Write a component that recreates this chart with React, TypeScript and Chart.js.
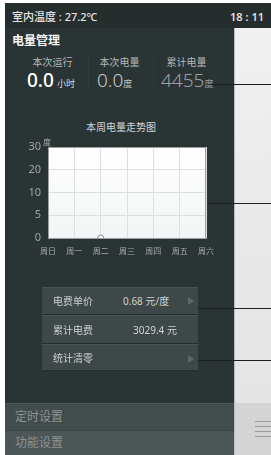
import React, { useEffect, useRef } from "react";
import { Chart, registerables } from "chart.js";

Chart.register(...registerables);

const days = ["周日", "周一", "周二", "周三", "周四", "周五", "周六"];
const yTickLabels = ["30", "20", "10", "5", "0"];
const weekUsage: (string | null)[] = [null, null, "0", null, null, null, null];

const FONT = '"Noto Sans", "Noto Sans CJK SC", sans-serif';

const plotBg = {
  id: "plotBg",
  beforeDraw(chart: any) {
    const { ctx, chartArea: a } = chart;
    ctx.save();
    const g = ctx.createLinearGradient(0, a.top, 0, a.bottom);
    g.addColorStop(0, "#ffffff");
    g.addColorStop(1, "#f2f4f5");
    ctx.fillStyle = g;
    ctx.fillRect(a.left, a.top, a.right - a.left, a.bottom - a.top);
    ctx.restore();
  },
  afterDraw(chart: any) {
    const { ctx, chartArea: a } = chart;
    ctx.save();
    ctx.strokeStyle = "#9a9e9e";
    ctx.lineWidth = 1;
    ctx.strokeRect(a.left + 0.5, a.top + 0.5, a.right - a.left - 1, a.bottom - a.top);
    ctx.restore();
  },
};

function WeekChart() {
  const ref = useRef<HTMLCanvasElement>(null);
  useEffect(() => {
    if (!ref.current) return;
    const chart = new Chart(ref.current, {
      type: "line",
      data: {
        labels: days,
        datasets: [
          {
            data: weekUsage as any,
            borderColor: "#999",
            backgroundColor: "#fff",
            borderWidth: 1,
            pointRadius: 3,
            pointBorderColor: "#8a8a8a",
            pointBackgroundColor: "#ffffff",
            spanGaps: false,
            clip: 0,
          } as any,
        ],
      },
      plugins: [plotBg],
      options: {
        animation: false,
        responsive: false,
        maintainAspectRatio: false,
        layout: { padding: { top: 32, right: 24, left: 0, bottom: 0 } },
        plugins: { legend: { display: false }, tooltip: { enabled: false }, title: { display: false } },
        scales: {
          x: {
            type: "category",
            offset: false,
            grid: { color: "#dcdfe0", drawTicks: false, lineWidth: 1 },
            border: { color: "#8e9292" },
            ticks: {
              color: "#a8acac",
              font: { size: 8, family: FONT },
              padding: 9,
              maxRotation: 0,
              autoSkip: false,
            },
            afterFit(s: any) {
              s.height = 27;
            },
          },
          y: {
            type: "category",
            labels: yTickLabels,
            offset: false,
            grid: { color: "#dcdfe0", drawTicks: false, lineWidth: 1 },
            border: { color: "#8e9292" },
            ticks: {
              color: "#a0a4a4",
              font: { size: 11, family: FONT },
              padding: 7,
              autoSkip: false,
            },
            afterFit(s: any) {
              s.width = 38;
            },
          },
        },
      },
    });
    return () => chart.destroy();
  }, []);
  return (
    <canvas
      ref={ref}
      width={220}
      height={150}
      style={{ position: "absolute", left: 10, top: 115, width: 220, height: 150 }}
    />
  );
}

function T(props: {
  x: number;
  y: number;
  size: number;
  color: string;
  weight?: number;
  center?: boolean;
  right?: boolean;
  children: React.ReactNode;
}) {
  return (
    <div
      style={{
        position: "absolute",
        left: props.right ? undefined : props.x,
        right: props.right ? 271 - props.x : undefined,
        top: props.y,
        fontSize: props.size,
        color: props.color,
        fontWeight: props.weight ?? 400,
        lineHeight: 1,
        whiteSpace: "nowrap",
        transform: props.center ? "translate(-50%, -50%)" : "translate(0, -50%)",
        fontFamily: FONT,
      }}
    >
      {props.children}
    </div>
  );
}

function HLine({ x, y, w }: { x: number; y: number; w: number }) {
  return <div style={{ position: "absolute", left: x, top: y, width: w, height: 1, background: "#1c1f1f" }} />;
}

function Tri({ x, y }: { x: number; y: number }) {
  return (
    <div
      style={{
        position: "absolute",
        left: x,
        top: y - 4,
        width: 0,
        height: 0,
        borderTop: "4px solid transparent",
        borderBottom: "4px solid transparent",
        borderLeft: "6px solid #5e6666",
      }}
    />
  );
}

export default function App() {
  const rowStyle = (top: number, h: number): React.CSSProperties => ({
    position: "absolute",
    left: 42,
    top,
    width: 156,
    height: h,
    background: "#3f4848",
    boxSizing: "border-box",
    borderTop: "1px solid #4a5353",
    borderBottom: "1px solid #262c2c",
  });
  return (
    <div style={{ position: "fixed", left: 0, top: 0, width: 271, height: 455, background: "#ffffff", overflow: "hidden", fontFamily: FONT }}>
      <style>{"body{margin:0}"}</style>
      {/* right panel */}
      <div style={{ position: "absolute", left: 234, top: 28, width: 37, height: 375, background: "linear-gradient(180deg,#f1f1f1 0%,#e9e9e9 50%,#e4e4e4 100%)" }} />
      <div style={{ position: "absolute", left: 234, top: 403, width: 37, height: 52, background: "#d4d4d4" }} />
      <div style={{ position: "absolute", left: 234, top: 28, width: 1, height: 427, background: "#b8bcbc" }} />
      {[421, 426, 431, 436].map((y) => (
        <div key={y} style={{ position: "absolute", left: 255, top: y, width: 16, height: 1, background: "#9c9c9c" }} />
      ))}
      {/* top bar */}
      <div style={{ position: "absolute", left: 5, top: 3, width: 266, height: 25, background: "#262d2d" }} />
      <T x={12} y={16} size={11} color="#e2e4e4" weight={500}>室内温度 : 27.2℃</T>
      <T x={264} y={16} size={11} color="#e2e4e4" weight={600} right>18 : 11</T>
      {/* main panel */}
      <div style={{ position: "absolute", left: 5, top: 28, width: 229, height: 375, background: "#2b3434" }} />
      <T x={12} y={41} size={12} color="#f4f4f4" weight={700}>电量管理</T>
      <T x={52.5} y={61.5} size={10} color="#b4b8b8" center>本次运行</T>
      <T x={119.5} y={61.5} size={10} color="#b4b8b8" center>本次电量</T>
      <T x={186.5} y={61.5} size={10} color="#b4b8b8" center>累计电量</T>
      <div style={{ position: "absolute", left: 88, top: 55, width: 1, height: 32, background: "#323b3b" }} />
      <div style={{ position: "absolute", left: 153, top: 55, width: 1, height: 32, background: "#323b3b" }} />
      <div style={{ position: "absolute", left: 27, top: 70, display: "flex", alignItems: "baseline", lineHeight: "20px", whiteSpace: "nowrap" }}>
        <span style={{ fontSize: 19, color: "#ffffff", fontWeight: 500 }}>0.0</span>
        <span style={{ fontSize: 9, color: "#d8dada", marginLeft: 3 }}>小时</span>
      </div>
      <div style={{ position: "absolute", left: 97, top: 70, display: "flex", alignItems: "baseline", lineHeight: "20px", whiteSpace: "nowrap" }}>
        <span style={{ fontSize: 19, color: "#c6caca", fontWeight: 300 }}>0.0</span>
        <span style={{ fontSize: 9, color: "#c6caca" }}>度</span>
      </div>
      <div style={{ position: "absolute", left: 161, top: 70, display: "flex", alignItems: "baseline", lineHeight: "20px", whiteSpace: "nowrap" }}>
        <span style={{ fontSize: 19, color: "#9ca0a0", fontWeight: 300 }}>4455</span>
        <span style={{ fontSize: 9, color: "#9ca0a0" }}>度</span>
      </div>
      <HLine x={210} y={84} w={61} />
      {/* chart */}
      <T x={121} y={127} size={10} color="#d4d6d6" center>本周电量走势图</T>
      <WeekChart />
      <T x={43} y={142} size={8} color="#a8acac">度</T>
      <HLine x={207} y={203} w={64} />
      {/* table */}
      <div style={rowStyle(287, 28)} />
      <div style={rowStyle(315, 29)} />
      <div style={rowStyle(344, 27)} />
      <T x={53} y={301} size={10} color="#cfd2d2">电费单价</T>
      <T x={123} y={301} size={10} color="#cfd2d2">0.68 元/度</T>
      <Tri x={188} y={301} />
      <T x={53} y={330} size={10} color="#cfd2d2">累计电费</T>
      <T x={133} y={330} size={10} color="#cfd2d2">3029.4 元</T>
      <T x={53} y={358} size={10} color="#cfd2d2">统计清零</T>
      <Tri x={188} y={359} />
      <HLine x={198} y={308} w={73} />
      <HLine x={198} y={360} w={73} />
      {/* bottom menu */}
      <div style={{ position: "absolute", left: 5, top: 403, width: 229, height: 27, background: "#434c4c", borderTop: "1px solid #4e5757", boxSizing: "border-box" }} />
      <div style={{ position: "absolute", left: 5, top: 430, width: 229, height: 25, background: "#4d5656", borderTop: "1px solid #3a4242", boxSizing: "border-box" }} />
      <T x={15} y={417} size={12} color="#8c9292">定时设置</T>
      <T x={15} y={443} size={12} color="#8c9292">功能设置</T>
    </div>
  );
}
